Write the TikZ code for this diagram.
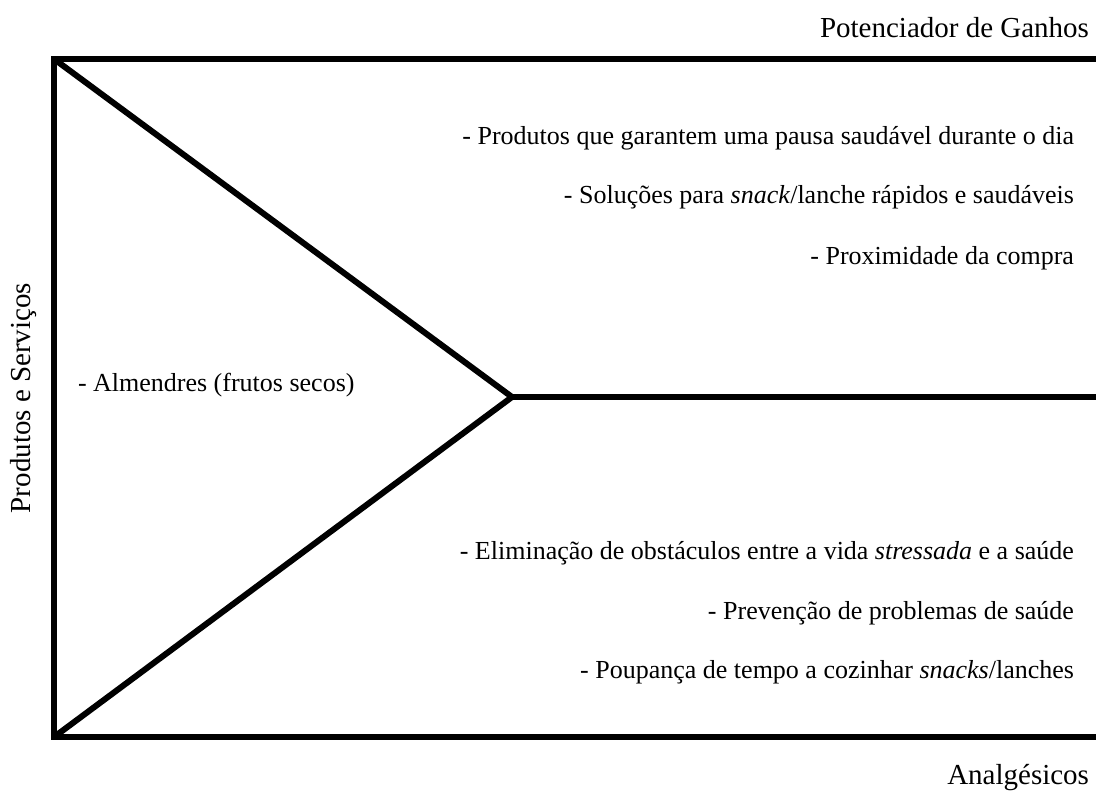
\documentclass[tikz,border=0pt]{standalone}
\usepackage{fontspec}
\setmainfont{Liberation Serif}

\begin{document}
\begin{tikzpicture}[x=1pt, y=-1pt, line width=6pt,
    item/.style={anchor=east, inner sep=0pt, font=\fontsize{26}{30}\selectfont},
    head/.style={anchor=east, inner sep=0pt, font=\fontsize{29}{34}\selectfont}]
  \useasboundingbox (0,0) rectangle (1096,793);
  \coordinate (TL) at (54,59);
  \coordinate (TR) at (1096,59);
  \coordinate (BL) at (54,737);
  \coordinate (BR) at (1096,737);
  \coordinate (V) at (512,397);   % ponta do triangulo
  \coordinate (MR) at (1096,397);
  \draw (TR) -- (TL) -- (BL) -- (BR);
  \draw (TL) -- (V) -- (BL);
  \draw (V) -- (MR);
  % titulos
  \node[head] (ganhos) at (1092,28) {Potenciador de Ganhos};
  \node[head] (dores) at (1092,778) {Analgésicos};
  \node[head, anchor=center, rotate=90] (prod) at (24,398) {Produtos e Serviços};
  % ganhos
  \node[item] (g1) at (1077,138) {- Produtos que garantem uma pausa saudável durante o dia};
  \node[item] (g2) at (1077,197) {- Soluções para \textit{snack}/lanche rápidos e saudáveis};
  \node[item] (g3) at (1077,258) {- Proximidade da compra};
  % produto
  \node[item, anchor=west] (p1) at (75,385) {- Almendres (frutos secos)};
  % analgesicos
  \node[item] (a1) at (1077,553) {- Eliminação de obstáculos entre a vida \textit{stressada} e a saúde};
  \node[item] (a2) at (1077,613) {- Prevenção de problemas de saúde};
  \node[item] (a3) at (1077,672) {- Poupança de tempo a cozinhar \textit{snacks}/lanches};
\end{tikzpicture}
\end{document}
